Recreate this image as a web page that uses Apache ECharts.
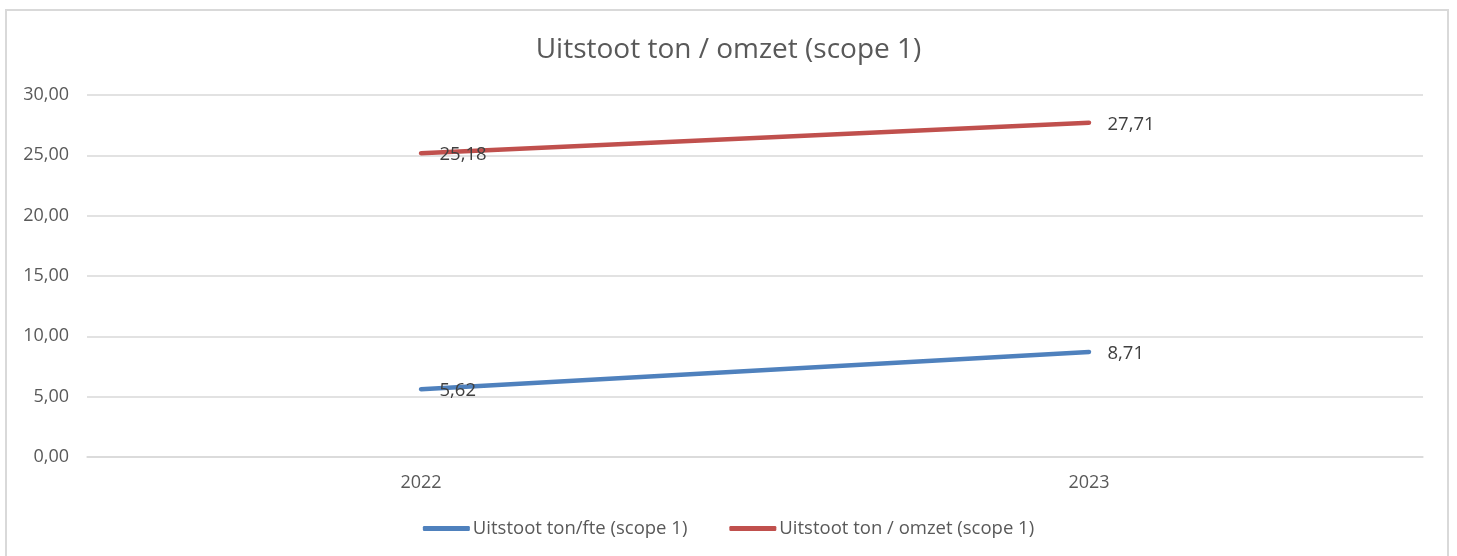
<!DOCTYPE html>
<html>
<head>
<meta charset="utf-8">
<script src="https://cdn.jsdelivr.net/npm/echarts@6/dist/echarts.min.js"></script>
<style>
  html, body { margin: 0; padding: 0; background: #fff; }
  #chart { width: 1457px; height: 556px; }
</style>
</head>
<body>
<div id="chart"></div>
<script>
var years = ['2022', '2023'];
var perFte = [5.62, 8.71];
var perOmzet = [25.18, 27.71];
var seriesNames = ['Uitstoot ton/fte (scope 1)', 'Uitstoot ton / omzet (scope 1)'];

var font = 'Open Sans, Noto Sans, sans-serif';
function nl(v) { return v.toFixed(2).replace('.', ','); }

var myChart = echarts.init(document.getElementById('chart'));

function lineSeries(name, data, color) {
    return {
        name: name,
        type: 'line',
        data: data,
        symbol: 'circle',
        symbolSize: 1,
        showSymbol: true,
        color: color,
        itemStyle: { color: color },
        lineStyle: { width: 4.5, color: color, cap: 'round' },
        label: {
            show: true, position: 'right', distance: 18, offset: [0, 2],
            fontFamily: font, fontSize: 18.5, color: '#404040',
            formatter: function (p) { return nl(p.value); }
        }
    };
}

myChart.setOption({
    animation: false,
    backgroundColor: '#fff',
    graphic: [{
        type: 'rect',
        shape: { x: 6, y: 10, width: 1442, height: 600 },
        style: { fill: 'none', stroke: '#d9d9d9', lineWidth: 2 },
        silent: true
    }],
    title: {
        text: 'Uitstoot ton / omzet (scope 1)',
        left: 'center',
        top: 31,
        textStyle: { fontFamily: font, fontSize: 28, fontWeight: 'normal', color: '#595959' }
    },
    legend: {
        bottom: 13,
        left: 'center',
        itemWidth: 47,
        itemHeight: 5,
        itemGap: 42,
        icon: 'roundRect',
        textStyle: { fontFamily: font, fontSize: 18.5, color: '#595959', padding: [0, 0, 0, -2] },
        data: seriesNames
    },
    grid: { left: 87, right: 34, top: 95, bottom: 99 },
    xAxis: {
        type: 'category',
        data: years,
        boundaryGap: true,
        axisLine: { lineStyle: { color: '#d9d9d9', width: 1.5 } },
        axisTick: { show: false },
        axisLabel: { fontFamily: font, fontSize: 18, color: '#595959', margin: 17 }
    },
    yAxis: {
        type: 'value',
        min: 0,
        max: 30,
        interval: 5,
        axisLine: { show: false },
        axisTick: { show: false },
        splitLine: { lineStyle: { color: '#d9d9d9', width: 1.5 } },
        axisLabel: {
            fontFamily: font, fontSize: 18, color: '#595959', margin: 18,
            formatter: function (v) { return nl(v); }
        }
    },
    series: [
        lineSeries(seriesNames[0], perFte, '#4f81bd'),
        lineSeries(seriesNames[1], perOmzet, '#c0504d')
    ]
});
</script>
</body>
</html>
